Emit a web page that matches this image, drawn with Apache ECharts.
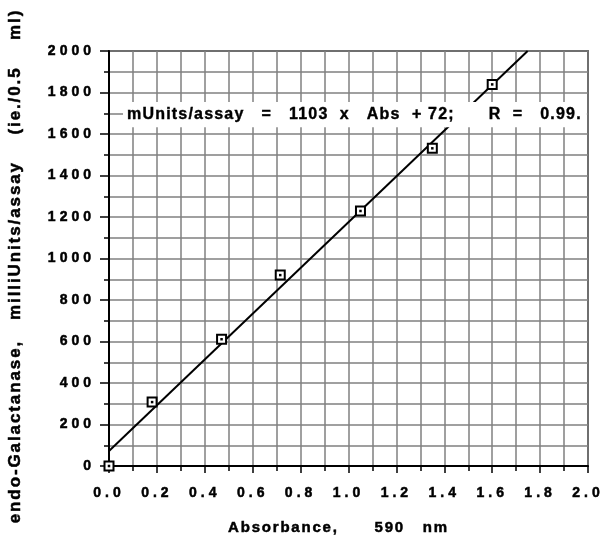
<!DOCTYPE html>
<html>
<head>
<meta charset="utf-8">
<script src="https://cdn.jsdelivr.net/npm/echarts@6/dist/echarts.min.js"></script>
<style>
html,body{margin:0;padding:0;background:#fff;}
#chart{width:600px;height:536px;}
</style>
</head>
<body>
<div id="chart"></div>
<script>
// ---- data ----
var absorbance = [0.0, 0.18, 0.47, 0.715, 1.05, 1.35, 1.60];
var activity   = [0, 308, 611, 920, 1229, 1531, 1839];
var fitSlope = 1103;
var fitIntercept = 72;
var xTicks = [0.0, 0.2, 0.4, 0.6, 0.8, 1.0, 1.2, 1.4, 1.6, 1.8, 2.0];
var yTicks = [0, 200, 400, 600, 800, 1000, 1200, 1400, 1600, 1800, 2000];
var xTitle = 'Absorbance,      590   nm';
var yTitle = 'endo-Galactanase,   milliUnits/assay    (ie./0.5    ml)';
var fitText = 'mUnits/assay   =   1103  x   Abs  + 72;      R  =   0.99.';

// ---- letter spacing emulation (canvas letterSpacing keyed by font size) ----
(function(){
  var P = CanvasRenderingContext2D.prototype;
  if (!('letterSpacing' in P)) return;
  function sp(font){
    if (/(^|\s)14px/.test(font)) return '4px';
    if (/(^|\s)15px/.test(font)) return '1.8px';
    if (/(^|\s)16px/.test(font)) return '1.2px';
    if (/(^|\s)17px/.test(font)) return '1.9px';
    return '0px';
  }
  var f = P.fillText, s = P.strokeText, m = P.measureText;
  function wrap(fn){
    return function(t,x,y,w){
      var old = this.letterSpacing; this.letterSpacing = sp(this.font);
      var r = w === undefined ? fn.call(this,t,x,y) : fn.call(this,t,x,y,w);
      this.letterSpacing = old; return r;
    };
  }
  P.fillText = wrap(f);
  P.strokeText = wrap(s);
  P.measureText = function(t){
    var old = this.letterSpacing; this.letterSpacing = sp(this.font);
    var r = m.call(this,t); this.letterSpacing = old; return r;
  };
})();

var points = absorbance.map(function(a,i){ return [a, activity[i]]; });
var yMaxAxis = yTicks[yTicks.length-1];
var xEnd = (yMaxAxis - fitIntercept) / fitSlope;
var fitLine = [[0, fitIntercept], [xEnd, fitSlope * xEnd + fitIntercept]];

var FONT = '"Liberation Sans", Arial, sans-serif';
var thick = {textBorderColor:'#000', textBorderWidth:0.5};
var chart = echarts.init(document.getElementById('chart'), null, {renderer:'canvas'});
chart.setOption({
  animation:false,
  backgroundColor:'#fff',
  grid:{left:109, right:12, top:51, bottom:70, containLabel:false, outerBoundsMode:'none',
    show:true, borderColor:'#000', borderWidth:1.5, backgroundColor:'transparent'},
  xAxis:{
    type:'value', min:xTicks[0], max:xTicks[xTicks.length-1], interval:0.2,
    name:xTitle, nameLocation:'middle', nameGap:53,
    nameTextStyle:Object.assign({fontFamily:FONT, fontWeight:'bold', fontSize:15, color:'#000', padding:[0,20,0,0]}, thick),
    axisLine:{show:true, onZero:false, lineStyle:{color:'#000', width:2}},
    axisTick:{show:true, length:7, lineStyle:{color:'#000', width:1.5}},
    minorTick:{show:true, splitNumber:2, length:5, lineStyle:{color:'#000', width:1.5}},
    axisLabel:Object.assign({margin:18, fontFamily:FONT, fontWeight:'bold', fontSize:14, color:'#000',
      formatter:function(v){ return v.toFixed(1); }}, thick),
    splitLine:{show:true, lineStyle:{color:'#808080', width:1.5}},
    minorSplitLine:{show:true, lineStyle:{color:'#808080', width:1.5}}
  },
  yAxis:{
    type:'value', min:yTicks[0], max:yMaxAxis, interval:200,
    name:yTitle, nameLocation:'middle', nameGap:84, nameRotate:90,
    nameTextStyle:Object.assign({fontFamily:FONT, fontWeight:'bold', fontSize:17, color:'#000', padding:[0,15,0,0]}, thick),
    axisLine:{show:true, onZero:false, lineStyle:{color:'#000', width:2}},
    axisTick:{show:true, length:9, lineStyle:{color:'#000', width:1.5}},
    minorTick:{show:true, splitNumber:2, length:5, lineStyle:{color:'#000', width:1.5}},
    axisLabel:Object.assign({margin:14, fontFamily:FONT, fontWeight:'bold', fontSize:14, color:'#000',
      formatter:function(v){ return String(v); }}, thick),
    splitLine:{show:true, lineStyle:{color:'#808080', width:1.5}},
    minorSplitLine:{show:true, lineStyle:{color:'#808080', width:1.5}}
  },
  series:[
    {type:'line', data:fitLine, symbol:'none', lineStyle:{color:'#000', width:2}, z:3, silent:true},
    {type:'scatter', data:points, symbol:'rect', symbolSize:9, clip:false,
      itemStyle:{color:'#fff', borderColor:'#000', borderWidth:2, opacity:1}, z:4},
    {type:'scatter', data:points, symbol:'rect', symbolSize:2.5, clip:false,
      itemStyle:{color:'#000', opacity:1}, z:5}
  ],
  graphic:[
    {type:'text', left:123, top:102, z:100,
      style:{text:fitText, font:'bold 16px ' + FONT, fill:'#000', stroke:'#000', lineWidth:0.4,
        backgroundColor:'#fff', padding:[4,5,4,4]}}
  ]
});
</script>
</body>
</html>
